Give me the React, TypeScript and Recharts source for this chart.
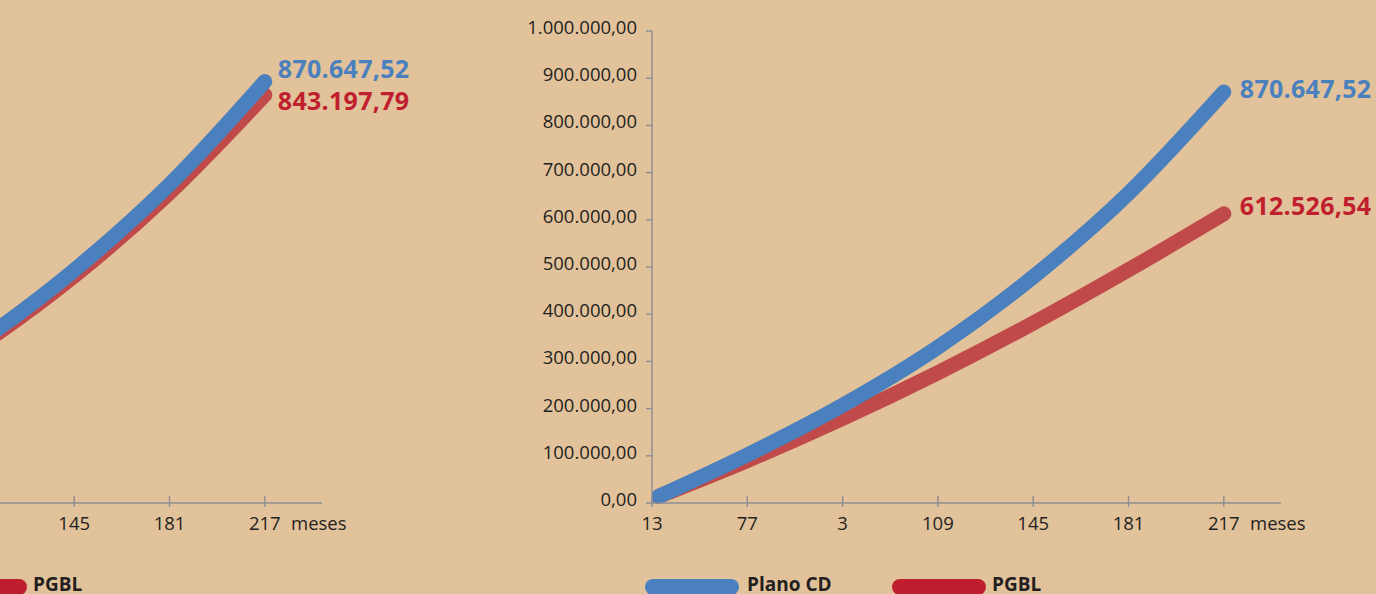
import { LineChart, Line, XAxis, YAxis, Legend, LabelList } from "recharts";

const BG = "#E2C29A";
const BLUE = "#4A80BD";
const RED_LINE = "#C04A4A";
const RED_TEXT = "#C0202E";
const RED_KEY = "#BE1E2D";
const AXIS = "#8C8E92";
const INK = "#231F20";
const FONT = "'Open Sans', 'Noto Sans', sans-serif";

// month ticks as printed in the source (the "3" is in the original)
const MONTH_LABELS = ["13", "77", "3", "109", "145", "181", "217"];
const MONTH_TICKS = [0, 1, 2, 3, 4, 5, 6];
// where each reading sits on the month axis (first point starts just past the origin)
const X_INDEX = [0.07, 1, 2, 3, 4, 5, 6];

const Y_TICKS = [0, 100000, 200000, 300000, 400000, 500000, 600000, 700000, 800000, 900000, 1000000];

// right chart
const PLANO_CD = [14000, 102000, 207000, 330000, 479000, 656000, 870647.52];
const PGBL_B = [14000, 90000, 179000, 276000, 381000, 494000, 612526.54];
// left chart (cropped)
const PLANO_CD_A = [14000, 102000, 207000, 332000, 481000, 658000, 870647.52];
const PGBL_A = [14000, 100000, 203000, 324000, 469000, 641000, 843197.79];

const SERIES_NAMES: Record<string, string> = { cd: "Plano CD", pgbl: "PGBL" };
const KEY_COLORS: Record<string, string> = { cd: BLUE, pgbl: RED_KEY };

function fmt(v: number) {
  const [int, dec] = v.toFixed(2).split(".");
  return int.replace(/\B(?=(\d{3})+(?!\d))/g, ".") + "," + dec;
}

function YTick({ x, y, payload }: any) {
  return (
    <text x={x} y={y + 3} textAnchor="end" fill={INK} fontSize={18.5} fontFamily={FONT}>
      {fmt(payload.value)}
    </text>
  );
}

function XTick({ x, y, payload }: any) {
  return (
    <g>
      <line x1={x} x2={x} y1={y - 7} y2={y + 4} stroke={AXIS} strokeWidth={1.4} />
      <text x={x} y={y + 27} textAnchor="middle" fill={INK} fontSize={18.5} fontFamily={FONT}>
        {MONTH_LABELS[payload.value]}
      </text>
    </g>
  );
}

function endLabel(color: string, dx: number, dy: number, last: number) {
  return (p: any) => {
    if (p.index !== last) return null;
    return (
      <text
        x={p.x + dx}
        y={p.y + dy}
        fill={color}
        fontSize={25}
        fontWeight={700}
        fontFamily={FONT}
        letterSpacing={0.3}
      >
        {fmt(Number(p.value))}
      </text>
    );
  };
}

function KeyContent({ payload }: any) {
  const items = (payload || []).slice().sort((a: any) => (a.dataKey === "cd" ? -1 : 1));
  return (
    <div style={{ position: "relative", height: 15 }}>
      {items.map((it: any, i: number) => (
        <div key={it.dataKey} style={{ position: "absolute", left: i * 247, top: 0 }}>
          <div
            style={{
              position: "absolute",
              left: 0,
              top: 0,
              width: 94,
              height: 16,
              borderRadius: 8,
              background: KEY_COLORS[it.dataKey],
            }}
          />
          <span
            style={{
              position: "absolute",
              left: i === 0 ? 102 : 100,
              top: -4,
              lineHeight: "19px",
              fontSize: 19,
              fontWeight: 700,
              fontFamily: FONT,
              color: INK,
              whiteSpace: "nowrap",
            }}
          >
            {SERIES_NAMES[it.dataKey]}
          </span>
        </div>
      ))}
    </div>
  );
}

type ChartProps = {
  left: number;
  top: number;
  cd: number[];
  pgbl: number[];
  dx: number;
  cdDy: number;
  pgblDy: number;
};

function RetornoChart({ left, top, cd, pgbl, dx, cdDy, pgblDy }: ChartProps) {
  const data = X_INDEX.map((x, i) => ({ x, cd: cd[i], pgbl: pgbl[i] }));
  const last = data.length - 1;
  return (
    <div style={{ position: "absolute", left, top: 0 }}>
      <LineChart width={1376} height={594} data={data} margin={{ top, right: 95, bottom: 61, left: 512 }}>
        <XAxis
          type="number"
          dataKey="x"
          domain={[0, 6.6]}
          ticks={MONTH_TICKS}
          allowDataOverflow
          height={30}
          axisLine={{ stroke: AXIS, strokeWidth: 1.4 }}
          tickLine={false}
          tickSize={0}
          tickMargin={0}
          tick={<XTick />}
          label={{
            content: ({ viewBox }: any) => (
              <text
                x={viewBox.x + viewBox.width - 31}
                y={viewBox.y + 27}
                fill={INK}
                fontSize={18.5}
                fontFamily={FONT}
              >
                meses
              </text>
            ),
          }}
        />
        <YAxis
          type="number"
          domain={[0, 1000000]}
          ticks={Y_TICKS}
          width={140}
          axisLine={{ stroke: AXIS, strokeWidth: 1.4 }}
          tickLine={{ stroke: AXIS, strokeWidth: 1.4 }}
          tickSize={6}
          tickMargin={9}
          tick={<YTick />}
        />
        <Line
          type="monotone"
          dataKey="pgbl"
          name="PGBL"
          stroke={RED_LINE}
          strokeWidth={15}
          strokeLinecap="round"
          strokeLinejoin="round"
          dot={false}
          activeDot={false}
          isAnimationActive={false}
        >
          <LabelList dataKey="pgbl" content={endLabel(RED_TEXT, dx, pgblDy, last)} />
        </Line>
        <Line
          type="monotone"
          dataKey="cd"
          name="Plano CD"
          stroke={BLUE}
          strokeWidth={15}
          strokeLinecap="round"
          strokeLinejoin="round"
          dot={false}
          activeDot={false}
          isAnimationActive={false}
        >
          <LabelList dataKey="cd" content={endLabel(BLUE, dx, cdDy, last)} />
        </Line>
        <Legend
          layout="horizontal"
          verticalAlign="middle"
          content={<KeyContent />}
          wrapperStyle={{ left: 645, top: 579, width: 500, height: 15 }}
        />
      </LineChart>
    </div>
  );
}

export default function App() {
  return (
    <div
      style={{
        position: "absolute",
        left: 0,
        top: 0,
        width: 1376,
        height: 594,
        overflow: "hidden",
        background: BG,
      }}
    >
      <RetornoChart left={-959} top={19} cd={PLANO_CD_A} pgbl={PGBL_A} dx={13} cdDy={-4} pgblDy={15} />
      <RetornoChart left={0} top={31} cd={PLANO_CD} pgbl={PGBL_B} dx={16} cdDy={6} pgblDy={1} />
    </div>
  );
}
